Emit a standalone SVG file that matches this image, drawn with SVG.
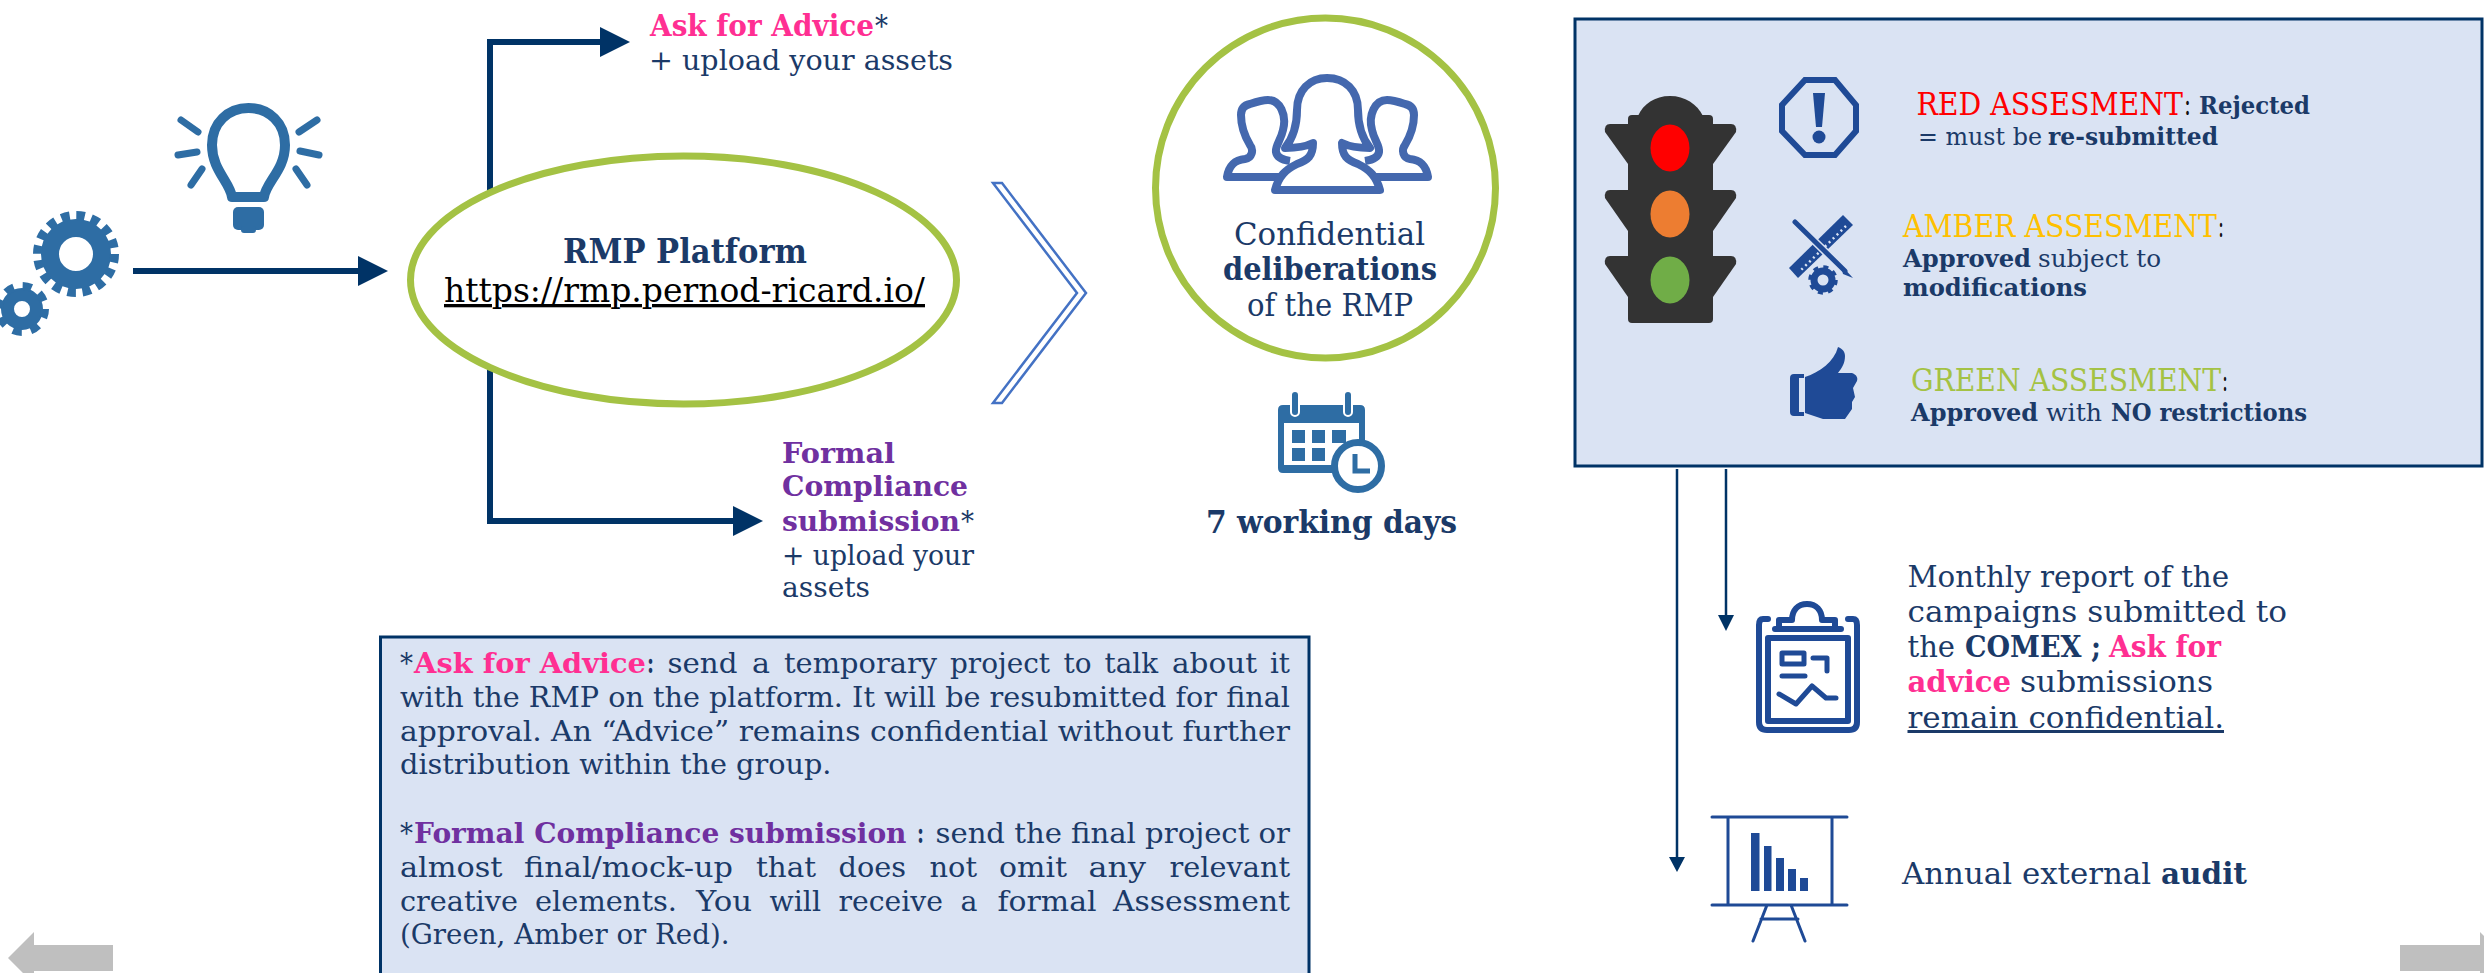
<svg xmlns="http://www.w3.org/2000/svg" width="2484" height="973" viewBox="0 0 2484 973">
<style>
text{font-family:"DejaVu Serif","Liberation Serif",serif;fill:#1b3a68;font-size:28px;white-space:pre}
.b{font-weight:700}
.pk{fill:#ff2f92;font-weight:700}
.pu{fill:#7030a0;font-weight:700}
.k{fill:#111}
.ic{fill:#2e6da4}
.ics{fill:none;stroke:#2e6da4}
.dk{fill:#1f4a96}
.dks{fill:none;stroke:#1f4a96}
.conn{fill:none;stroke:#003366;stroke-width:6}
.thin{fill:none;stroke:#003366;stroke-width:2.5}
.panel{fill:#dae3f3;stroke:#003366;stroke-width:3}
.ring{fill:#fff;stroke:#a4c244;stroke-width:7}
.gray{fill:#bfbfbf}
.lt{fill:#333}
</style>
<defs>
<marker id="big" markerUnits="userSpaceOnUse" markerWidth="31" markerHeight="32" refX="0" refY="16" orient="auto"><path d="M0 1L30 16L0 31Z" fill="#003366"/></marker>
<clipPath id="gclip"><rect x="0" y="80" width="400" height="256"/></clipPath>
</defs>

<g id="connectors">
<path class="conn" d="M133 271H358" marker-end="url(#big)"/>
<path class="conn" d="M490 200V42H600" marker-end="url(#big)"/>
<path class="conn" d="M490 360V521H733" marker-end="url(#big)"/>
<path class="thin" d="M1677 469V858"/>
<path d="M1669 857H1685L1677 872Z" fill="#003366"/>
<path class="thin" d="M1726 469V616"/>
<path d="M1718 615H1734L1726 631Z" fill="#003366"/>
</g>

<g id="gears" clip-path="url(#gclip)">
<circle cx="76" cy="254" r="26" fill="none" stroke="#2e6da4" stroke-width="18"/>
<circle cx="76" cy="254" r="38.5" fill="none" stroke="#2e6da4" stroke-width="9" stroke-dasharray="8.5 6.62"/>
<circle cx="22" cy="309" r="14.5" fill="none" stroke="#2e6da4" stroke-width="13"/>
<circle cx="22" cy="309" r="23" fill="none" stroke="#2e6da4" stroke-width="8" stroke-dasharray="9 9.06"/>
</g>

<g id="bulb">
<path class="ics" stroke-width="10" stroke-linejoin="round" d="M232 197H264C266 182 285 170 285 145C285 123 269 108 248.500 108C228 108 212 123 212 145C212 170 230 182 232 197Z"/>
<rect class="ic" x="233" y="207" width="31" height="23" rx="5"/>
<rect class="ic" x="241" y="226" width="15" height="7" rx="3"/>
<g class="ics" stroke-width="7" stroke-linecap="round">
<path d="M181 120L198 132M178 155L197 152M191 185L202 169M317 120L299 132M319 155L300 151M307 185L296 169"/>
</g>
</g>

<g id="rmp-platform">
<ellipse class="ring" cx="683.500" cy="280" rx="273" ry="124"/>
<text class="b" x="563" y="263" textLength="244" lengthAdjust="spacingAndGlyphs" style="font-size:33px">RMP Platform</text>
<text x="444" y="302" textLength="481" lengthAdjust="spacingAndGlyphs" style="font-size:33px;fill:#000;text-decoration:underline">https://rmp.pernod-ricard.io/</text>
</g>

<g id="ask-advice">
<text y="36" style="font-size:30px"><tspan class="pk" x="650" textLength="224" lengthAdjust="spacingAndGlyphs">Ask for Advice</tspan><tspan x="875" textLength="13" lengthAdjust="spacingAndGlyphs">*</tspan></text>
<text x="649" y="70" textLength="304" lengthAdjust="spacingAndGlyphs">+ upload your assets</text>
</g>

<g id="formal-compliance">
<text class="pu" x="782" y="463" textLength="113" lengthAdjust="spacingAndGlyphs">Formal</text>
<text class="pu" x="782" y="496" textLength="186" lengthAdjust="spacingAndGlyphs">Compliance</text>
<text y="531"><tspan class="pu" x="782" textLength="178" lengthAdjust="spacingAndGlyphs">submission</tspan><tspan x="961" textLength="13" lengthAdjust="spacingAndGlyphs">*</tspan></text>
<text x="782" y="565" textLength="192" lengthAdjust="spacingAndGlyphs">+ upload your</text>
<text x="782" y="597" textLength="88" lengthAdjust="spacingAndGlyphs">assets</text>
</g>

<g id="chevron">
<path d="M993 183H1002L1086 293L1002 403H993L1077 293Z" fill="#fff" stroke="#4472c4" stroke-width="2.500"/>
</g>

<g id="deliberations">
<circle class="ring" cx="1325.500" cy="188" r="170"/>
<g fill="#fff" stroke="#4468ae" stroke-width="8" stroke-linejoin="round">
<path d="M1285 177H1227C1229 165 1235 160 1245 159C1252 158 1254 150 1250 145C1244 135 1241 125 1241 115C1241 108 1245 105 1250 104C1256 102 1262 100 1268 100C1280 100 1287 115 1283 130C1281 140 1275 146 1276 152C1277 158 1283 160 1290 161"/>
<path d="M1285 177H1227C1229 165 1235 160 1245 159C1252 158 1254 150 1250 145C1244 135 1241 125 1241 115C1241 108 1245 105 1250 104C1256 102 1262 100 1268 100C1280 100 1287 115 1283 130C1281 140 1275 146 1276 152C1277 158 1283 160 1290 161" transform="translate(2655 0) scale(-1 1)"/>
<path d="M1275 190C1279 176 1285 170 1297 164C1308 160 1313 156 1313 143C1303 148 1293 148 1285 148C1293 138 1297 125 1297 110C1297 90 1310 78 1327 78C1345 78 1358 90 1358 110C1358 125 1362 138 1370 148C1362 148 1352 148 1342 143C1342 156 1347 160 1358 164C1370 170 1376 176 1380 190Z"/>
</g>
<text x="1234" y="245" textLength="191" lengthAdjust="spacingAndGlyphs" style="font-size:31px">Confidential</text>
<text class="b" x="1223" y="280" textLength="214" lengthAdjust="spacingAndGlyphs" style="font-size:31px">deliberations</text>
<text x="1247" y="316" textLength="166" lengthAdjust="spacingAndGlyphs" style="font-size:31px">of the RMP</text>
</g>

<g id="working-days">
<path class="ic" d="M1283 405H1360Q1365 405 1365 410V440H1359V423H1284V465H1340V473H1283Q1278 473 1278 468V410Q1278 405 1283 405Z"/>
<rect x="1291" y="391" width="8" height="25" rx="4" class="ic" stroke="#fff" stroke-width="2"/>
<rect x="1344" y="391" width="8" height="25" rx="4" class="ic" stroke="#fff" stroke-width="2"/>
<g class="ic">
<rect x="1292" y="430" width="13" height="13"/><rect x="1312" y="430" width="13" height="13"/><rect x="1332" y="430" width="14" height="13"/>
<rect x="1292" y="448" width="13" height="13"/><rect x="1312" y="448" width="13" height="13"/>
</g>
<circle cx="1358" cy="466" r="23.500" fill="#fff" stroke="#2e6da4" stroke-width="7"/>
<path class="ics" stroke-width="5" d="M1355 454V471H1370"/>
<text class="b" x="1206" y="533" textLength="251" lengthAdjust="spacingAndGlyphs" style="font-size:31px">7 working days</text>
</g>

<g id="assessment-panel">
<rect class="panel" x="1575" y="19" width="907" height="447"/>
<g id="traffic-light">
<rect class="lt" x="1628" y="115" width="85" height="208" rx="4"/>
<path class="lt" d="M1638 116C1643 104 1655 96 1670 96C1685 96 1697 104 1703 116Z"/>
<path class="lt" d="M1610 124H1731Q1737 124 1736 132L1713 164H1628L1605 132Q1604 124 1610 124Z"/>
<path class="lt" d="M1610 190H1731Q1737 190 1736 198L1713 231H1628L1605 198Q1604 190 1610 190Z"/>
<path class="lt" d="M1610 256H1731Q1737 256 1736 264L1713 297H1628L1605 264Q1604 256 1610 256Z"/>
<ellipse cx="1670" cy="148" rx="19.500" ry="23.500" fill="#f00"/>
<ellipse cx="1670" cy="214" rx="19.500" ry="23.500" fill="#ed7d31"/>
<ellipse cx="1670" cy="280" rx="19.500" ry="23.500" fill="#70ad47"/>
</g>
<g id="red-item">
<path class="dks" stroke-width="6" d="M1805 80H1835L1856 105V131L1835 155H1805L1782 131V105Z"/>
<path class="dk" d="M1813 93H1825L1822 127H1816Z"/>
<circle class="dk" cx="1819" cy="137" r="6.500"/>
<text y="115" style="font-size:31px"><tspan x="1916.500" textLength="266.500" lengthAdjust="spacingAndGlyphs" style="fill:#f00">RED ASSESMENT</tspan><tspan class="k" x="2184" textLength="7" lengthAdjust="spacingAndGlyphs">:</tspan></text>
<text class="b" x="2199" y="114" textLength="111" lengthAdjust="spacingAndGlyphs" style="font-size:25px">Rejected</text>
<text y="145" style="font-size:25px"><tspan x="1918" textLength="124" lengthAdjust="spacingAndGlyphs">= must be</tspan><tspan class="b" x="2048" textLength="170" lengthAdjust="spacingAndGlyphs">re-submitted</tspan></text>
</g>
<g id="amber-item">
<path class="dk" d="M1789 268L1843 215L1853 225L1798 278Z"/>
<path d="M1846 226L1799 272" fill="none" stroke="#dae3f3" stroke-width="2.500" stroke-dasharray="2 3.500"/>
<path d="M1795 222L1846 272" fill="none" stroke="#dae3f3" stroke-width="8"/>
<path d="M1795 222L1845 271" fill="none" stroke="#1f4a96" stroke-width="5" stroke-linecap="round"/>
<path class="dk" d="M1841 265L1853 278L1843 274Z"/>
<circle cx="1823" cy="280" r="9" fill="none" stroke="#1f4a96" stroke-width="7"/>
<circle cx="1823" cy="280" r="13" fill="none" stroke="#1f4a96" stroke-width="3.500" stroke-dasharray="5 5.200"/>
<text y="237" style="font-size:31px"><tspan x="1903" textLength="314" lengthAdjust="spacingAndGlyphs" style="fill:#ffc000">AMBER ASSESMENT</tspan><tspan class="k" x="2218" textLength="6" lengthAdjust="spacingAndGlyphs">:</tspan></text>
<text y="267" style="font-size:25px"><tspan class="b" x="1903" textLength="128" lengthAdjust="spacingAndGlyphs">Approved</tspan><tspan x="2038" textLength="123" lengthAdjust="spacingAndGlyphs">subject to</tspan></text>
<text class="b" x="1903" y="296" textLength="184" lengthAdjust="spacingAndGlyphs" style="font-size:25px">modifications</text>
</g>
<g id="green-item">
<path class="dk" d="M1794 374H1804V378H1799V412H1804V416H1794Q1790 416 1790 412V378Q1790 374 1794 374Z"/>
<path class="dk" d="M1805 377C1820 372 1834 362 1838 347C1843 349 1845 352 1845 356C1845 363 1842 368 1838 373H1852C1857 375 1858 378 1857 381L1853 388L1855 397L1852 402L1852 409L1845 419H1823L1805 413Z"/>
<text y="391" style="font-size:31px"><tspan x="1911" textLength="310" lengthAdjust="spacingAndGlyphs" style="fill:#a4c244">GREEN ASSESMENT</tspan><tspan class="k" x="2222" textLength="6" lengthAdjust="spacingAndGlyphs">:</tspan></text>
<text y="421" style="font-size:25px"><tspan class="b" x="1911" textLength="127" lengthAdjust="spacingAndGlyphs">Approved</tspan><tspan x="2046" textLength="56" lengthAdjust="spacingAndGlyphs">with</tspan><tspan class="b" x="2111" textLength="196" lengthAdjust="spacingAndGlyphs">NO restrictions</tspan></text>
</g>
</g>

<g id="monthly-report">
<g class="dks" stroke-width="6" stroke-linecap="round" stroke-linejoin="round">
<path d="M1768 619H1763Q1759 619 1759 625V722Q1759 730 1767 730H1849Q1857 730 1857 722V625Q1857 619 1853 619H1848"/>
<rect x="1768" y="638" width="80" height="83"/>
<path d="M1775 629H1841M1779 628V620H1792C1792 610 1798 604 1807 604C1816 604 1822 610 1822 620H1835V628"/>
<rect x="1782" y="653" width="22" height="11" stroke-width="5"/>
<path d="M1813 658H1827V671M1782 676H1805M1779 694L1796 704L1812 686L1826 698H1836" stroke-width="5"/>
</g>
<text x="1907.500" y="587" textLength="321.500" lengthAdjust="spacingAndGlyphs" style="font-size:30px">Monthly report of the</text>
<text x="1907.500" y="622" textLength="379.500" lengthAdjust="spacingAndGlyphs" style="font-size:30px">campaigns submitted to</text>
<text y="657" style="font-size:30px"><tspan x="1907.500" textLength="47.500" lengthAdjust="spacingAndGlyphs">the</tspan><tspan class="b" x="1965" textLength="136" lengthAdjust="spacingAndGlyphs">COMEX ;</tspan><tspan class="pk" x="2109" textLength="112" lengthAdjust="spacingAndGlyphs">Ask for</tspan></text>
<text y="692" style="font-size:30px"><tspan class="pk" x="1907.500" textLength="103.500" lengthAdjust="spacingAndGlyphs">advice</tspan><tspan x="2020" textLength="193" lengthAdjust="spacingAndGlyphs">submissions</tspan></text>
<text x="1907.500" y="728" textLength="316.500" lengthAdjust="spacingAndGlyphs" style="font-size:30px;text-decoration:underline">remain confidential.</text>
</g>

<g id="annual-audit">
<g class="dks" stroke-width="3" stroke-linecap="round">
<path d="M1712 817H1847M1712 905H1847M1728 817V905M1832 817V905M1767 905L1753 941M1791 905L1805 941M1761 919H1798"/>
</g>
<g class="dk">
<rect x="1751" y="833" width="8.500" height="58"/><rect x="1764" y="846" width="7.500" height="45"/><rect x="1776" y="858" width="8" height="33"/><rect x="1788" y="869" width="8" height="22"/><rect x="1800" y="878" width="8" height="13"/>
</g>
<text y="884" style="font-size:30px"><tspan x="1902" textLength="249" lengthAdjust="spacingAndGlyphs">Annual external</tspan><tspan class="b" x="2161" textLength="86" lengthAdjust="spacingAndGlyphs">audit</tspan></text>
</g>

<g id="definitions-panel">
<rect class="panel" x="380.500" y="637" width="928.500" height="345"/>
<text y="673"><tspan x="400" textLength="13" lengthAdjust="spacingAndGlyphs">*</tspan><tspan class="pk" x="414" textLength="232" lengthAdjust="spacingAndGlyphs">Ask for Advice</tspan><tspan class="b" x="647" textLength="7" lengthAdjust="spacingAndGlyphs">:</tspan><tspan x="667.500" textLength="70" lengthAdjust="spacingAndGlyphs">send</tspan><tspan x="752" textLength="18" lengthAdjust="spacingAndGlyphs">a</tspan><tspan x="784" textLength="153" lengthAdjust="spacingAndGlyphs">temporary</tspan><tspan x="950" textLength="100" lengthAdjust="spacingAndGlyphs">project</tspan><tspan x="1063.500" textLength="28" lengthAdjust="spacingAndGlyphs">to</tspan><tspan x="1104.500" textLength="53.500" lengthAdjust="spacingAndGlyphs">talk</tspan><tspan x="1172" textLength="85" lengthAdjust="spacingAndGlyphs">about</tspan><tspan x="1270" textLength="20" lengthAdjust="spacingAndGlyphs">it</tspan></text>
<text x="400" y="707" textLength="890" lengthAdjust="spacingAndGlyphs">with the RMP on the platform. It will be resubmitted for final</text>
<text x="400" y="741" textLength="890" lengthAdjust="spacingAndGlyphs">approval. An “Advice” remains confidential without further</text>
<text x="400" y="774" textLength="431.500" lengthAdjust="spacingAndGlyphs">distribution within the group.</text>
<text y="843"><tspan x="400" textLength="13" lengthAdjust="spacingAndGlyphs">*</tspan><tspan class="pu" x="414" textLength="492.500" lengthAdjust="spacingAndGlyphs">Formal Compliance submission</tspan><tspan class="b" x="917" textLength="7" lengthAdjust="spacingAndGlyphs">:</tspan><tspan x="935.500" textLength="354.500" lengthAdjust="spacingAndGlyphs">send the final project or</tspan></text>
<text y="877"><tspan x="400" textLength="102.500" lengthAdjust="spacingAndGlyphs">almost</tspan><tspan x="524" textLength="209" lengthAdjust="spacingAndGlyphs">final/mock-up</tspan><tspan x="756" textLength="60" lengthAdjust="spacingAndGlyphs">that</tspan><tspan x="838.500" textLength="67.500" lengthAdjust="spacingAndGlyphs">does</tspan><tspan x="929.500" textLength="47.500" lengthAdjust="spacingAndGlyphs">not</tspan><tspan x="999" textLength="68" lengthAdjust="spacingAndGlyphs">omit</tspan><tspan x="1088.500" textLength="57.500" lengthAdjust="spacingAndGlyphs">any</tspan><tspan x="1169.500" textLength="120.500" lengthAdjust="spacingAndGlyphs">relevant</tspan></text>
<text y="911"><tspan x="400" textLength="118" lengthAdjust="spacingAndGlyphs">creative</tspan><tspan x="535" textLength="142" lengthAdjust="spacingAndGlyphs">elements.</tspan><tspan x="696" textLength="56" lengthAdjust="spacingAndGlyphs">You</tspan><tspan x="769.500" textLength="51.500" lengthAdjust="spacingAndGlyphs">will</tspan><tspan x="838.500" textLength="104.500" lengthAdjust="spacingAndGlyphs">receive</tspan><tspan x="960.500" textLength="17" lengthAdjust="spacingAndGlyphs">a</tspan><tspan x="997.500" textLength="99" lengthAdjust="spacingAndGlyphs">formal</tspan><tspan x="1113" textLength="177" lengthAdjust="spacingAndGlyphs">Assessment</tspan></text>
<text x="400" y="944" textLength="329.500" lengthAdjust="spacingAndGlyphs">(Green, Amber or Red).</text>
</g>

<g id="nav-left"><path class="gray" d="M8 958L34 932V945H113V971H34V973H23Z"/></g>
<g id="nav-right"><path class="gray" d="M2400 945H2480V932L2484 936V973H2480V971H2400Z"/></g>
</svg>
